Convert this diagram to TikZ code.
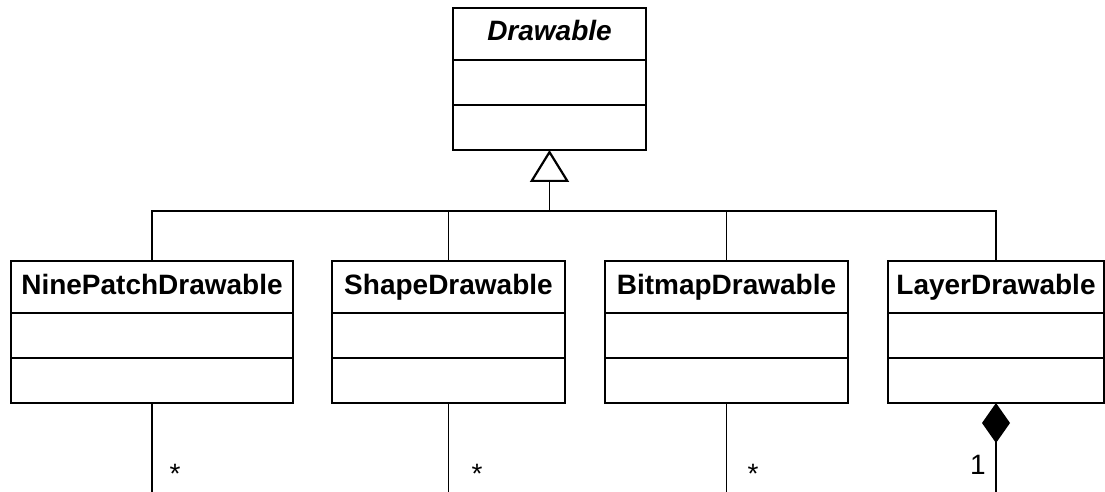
\documentclass[tikz,border=0pt]{standalone}
\usepackage{fontspec}
\setmainfont{Liberation Sans}
\usetikzlibrary{arrows.meta,positioning,calc}

\tikzset{
  classname/.style={draw, line width=1.2pt, outer sep=0pt, minimum height=26pt,
    text height=10pt, text depth=3pt, font=\fontsize{14}{16}\selectfont\bfseries},
  compartment/.style={draw, line width=1.2pt, outer sep=0pt, minimum height=22.5pt},
  link/.style={line width=0.8pt},
  inherit/.style={link, -{Triangle[open, length=16pt, width=19.5pt, line width=1.1pt]}},
  composite/.style={link, {Diamond[length=20pt, width=14pt]}-},
  mult/.style={font=\fontsize{14}{16}\selectfont, inner sep=0pt}
}

\begin{document}
\begin{tikzpicture}[x=0.5pt, y=-0.5pt]
  \useasboundingbox (0,0) rectangle (1105,492);

  % base class
  \node[classname, minimum width=96.5pt, anchor=north] (drawable) at (549.5,8) {\textit{Drawable}};
  \node[compartment, minimum width=96.5pt, below=0pt of drawable] (drawable-attr) {};
  \node[compartment, minimum width=96.5pt, below=0pt of drawable-attr] (drawable-ops) {};

  % subclasses
  \foreach \name/\cx/\w/\txt in {ninepatch/152/141pt/NinePatchDrawable,
      shape/448.5/116.5pt/ShapeDrawable, bitmap/726.5/121.5pt/BitmapDrawable,
      layer/996/108pt/LayerDrawable} {
    \node[classname, minimum width=\w, anchor=north] (\name) at (\cx,261) {\txt};
    \node[compartment, minimum width=\w, below=0pt of \name] (\name-attr) {};
    \node[compartment, minimum width=\w, below=0pt of \name-attr] (\name-ops) {};
  }

  % generalisation
  \coordinate (bus) at (549.5,211);
  \coordinate (bottom) at (0,492);
  \draw[inherit] (bus) -- (drawable-ops.south);
  \draw[link] (ninepatch.north) |- (bus) -| (layer.north);
  \draw[link] (shape.north) -- (shape.north |- bus);
  \draw[link] (bitmap.north) -- (bitmap.north |- bus);

  % associations running off below
  \draw[link] (ninepatch-ops.south) -- (ninepatch-ops.south |- bottom);
  \draw[link] (shape-ops.south) -- (shape-ops.south |- bottom);
  \draw[link] (bitmap-ops.south) -- (bitmap-ops.south |- bottom);
  \draw[composite] (layer-ops.south) -- (layer-ops.south |- bottom);

  \node[mult] (ninepatch-mult) at (175,474) {*};
  \node[mult] (shape-mult) at (477,474) {*};
  \node[mult] (bitmap-mult) at (753,474) {*};
  \node[mult] (layer-mult) at (978,465) {1};
\end{tikzpicture}
\end{document}
